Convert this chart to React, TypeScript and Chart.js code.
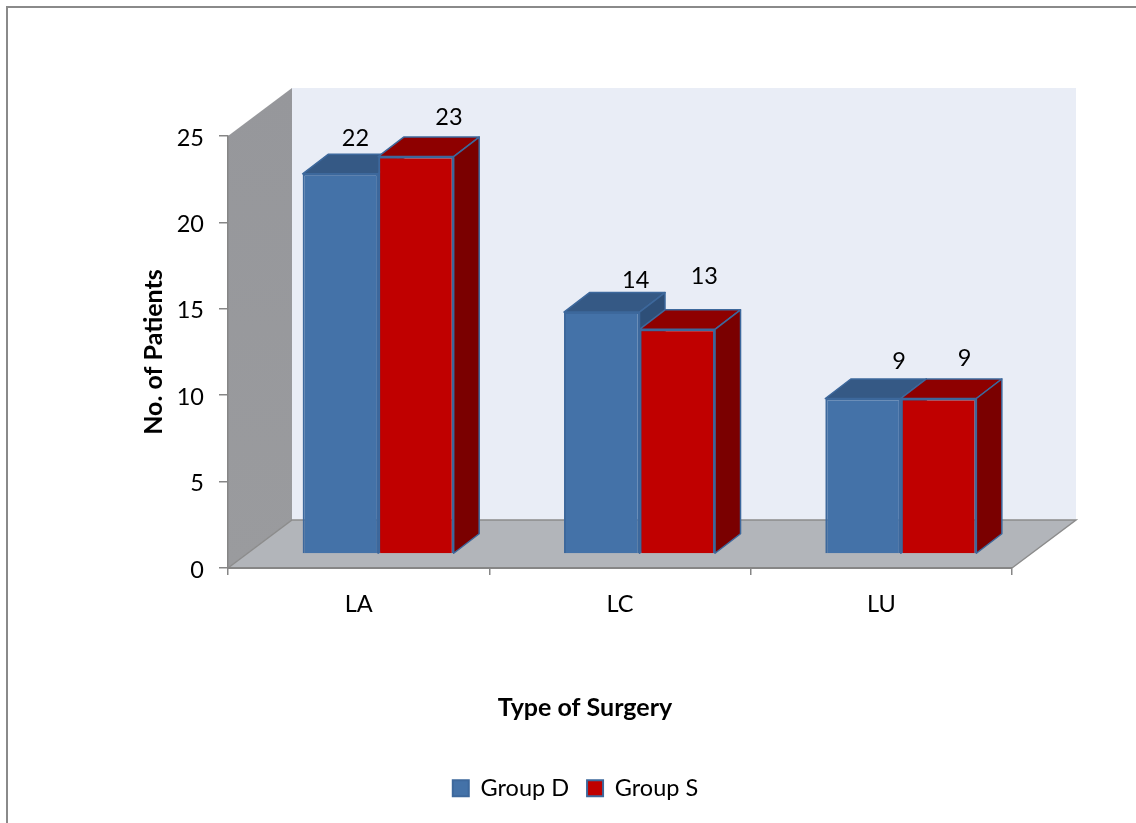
import React, { useEffect, useRef } from "react";
import { Chart, registerables } from "chart.js";

Chart.register(...registerables);

// Chart content
const surgeryTypes = ["LA", "LC", "LU"];
const groupD = [22, 14, 9];
const groupS = [23, 13, 9];
const groupNames = ["Group D", "Group S"];
const yTitle = "No. of Patients";
const xTitle = "Type of Surgery";

// Layout of the pseudo-3D box
const FONT = "Lato, Carlito, sans-serif";
const TEXT_SIZE = 23.5;
const TITLE_SIZE = 25;
const AREA_LEFT = 228;
const AREA_RIGHT_GAP = 124;
const AREA_TOP = 136;
const AREA_BOTTOM = 568;
const PAD_LEFT = 15;
const PAD_BOTTOM = 13;
const WALL_DEPTH = { x: 64, y: -48 };
const BAR_SHIFT = { x: 19.5, y: -14 };
const BAR_DEPTH = { x: 25.5, y: -19.5 };

// Hand placement of value labels, relative to each bar's top centre
const labelNudgeX = [[15, 34, 36], [33, 27, 26]];
const labelNudgeY = [[-35, -32, -37], [-39, -53, -40]];

const barFaces = [
  { front: "#4472A8", top: "#355985", side: "#2E4F78", edge: "#3D689C" },
  { front: "#C00000", top: "#8E0000", side: "#7A0000", edge: "#3D689C" },
];

function polygon(ctx: CanvasRenderingContext2D, pts: number[][], fill: string, stroke?: string, lw = 1.5) {
  ctx.beginPath();
  pts.forEach((p, i) => (i ? ctx.lineTo(p[0], p[1]) : ctx.moveTo(p[0], p[1])));
  ctx.closePath();
  ctx.fillStyle = fill;
  ctx.fill();
  if (stroke) {
    ctx.strokeStyle = stroke;
    ctx.lineWidth = lw;
    ctx.lineJoin = "round";
    ctx.stroke();
  }
}

const box3d = {
  id: "box3d",
  beforeDraw(chart: any) {
    const { ctx, chartArea: a } = chart;
    const dx = WALL_DEPTH.x;
    const dy = WALL_DEPTH.y;
    ctx.save();

    // outer frame: top and left edges only
    ctx.strokeStyle = "#8A8A8A";
    ctx.lineWidth = 2;
    ctx.beginPath();
    ctx.moveTo(7, chart.height);
    ctx.lineTo(7, 7);
    ctx.lineTo(chart.width, 7);
    ctx.stroke();

    // back wall
    polygon(ctx, [
      [a.left + dx, a.top + dy],
      [a.right + dx, a.top + dy],
      [a.right + dx, a.bottom + dy],
      [a.left + dx, a.bottom + dy],
    ], "#E9EDF6");

    // side wall
    const wall = ctx.createLinearGradient(0, a.top + dy, 0, a.bottom);
    wall.addColorStop(0, "#96979B");
    wall.addColorStop(1, "#9A9B9E");
    polygon(ctx, [
      [a.left, a.top],
      [a.left + dx, a.top + dy],
      [a.left + dx, a.bottom + dy],
      [a.left, a.bottom],
    ], wall);

    // floor
    polygon(ctx, [
      [a.left, a.bottom],
      [a.left + dx, a.bottom + dy],
      [a.right + dx, a.bottom + dy],
      [a.right, a.bottom],
    ], "#B2B5BA");
    ctx.strokeStyle = "#8C8C8C";
    ctx.lineWidth = 1.5;
    ctx.beginPath();
    ctx.moveTo(a.left, a.bottom);
    ctx.lineTo(a.left + dx, a.bottom + dy);
    ctx.lineTo(a.right + dx, a.bottom + dy);
    ctx.lineTo(a.right, a.bottom);
    ctx.stroke();
    ctx.restore();
  },
  // Chart.js paints the last dataset first; the prisms need left-to-right
  // painting so each group's front face hides its neighbour's side face.
  beforeDatasetDraw() {
    return false;
  },
  afterDatasetsDraw(chart: any) {
    const { ctx } = chart;
    ctx.save();
    ctx.translate(BAR_SHIFT.x, BAR_SHIFT.y);
    chart.data.datasets.forEach((_: any, d: number) => {
      const meta = chart.getDatasetMeta(d);
      const faces = barFaces[d];
      meta.controller.draw();
      meta.data.forEach((bar: any) => {
        const l = bar.x - bar.width / 2;
        const r = bar.x + bar.width / 2;
        const dx = BAR_DEPTH.x;
        const dy = BAR_DEPTH.y;
        polygon(ctx, [[l, bar.y], [r, bar.y], [r + dx, bar.y + dy], [l + dx, bar.y + dy]], faces.top, faces.edge);
        polygon(ctx, [[r, bar.y], [r + dx, bar.y + dy], [r + dx, bar.base + dy], [r, bar.base]], faces.side, faces.edge);
      });
    });
    ctx.restore();

    ctx.save();
    ctx.font = `${TEXT_SIZE}px ${FONT}`;
    ctx.fillStyle = "#000";
    ctx.textAlign = "center";
    ctx.textBaseline = "middle";
    chart.data.datasets.forEach((ds: any, d: number) => {
      chart.getDatasetMeta(d).data.forEach((bar: any, i: number) => {
        ctx.fillText(
          String(ds.data[i]),
          bar.x + BAR_SHIFT.x + labelNudgeX[d][i],
          bar.y + BAR_SHIFT.y + labelNudgeY[d][i],
        );
      });
    });
    // horizontal axis title sits left of the scale centre
    ctx.font = `bold ${TITLE_SIZE}px ${FONT}`;
    ctx.fillText(xTitle, 585, 708);
    ctx.restore();
  },
};

export default function App() {
  const ref = useRef<HTMLCanvasElement>(null);

  useEffect(() => {
    document.body.style.margin = "0";
    const chart = new Chart(ref.current as HTMLCanvasElement, {
      type: "bar",
      data: {
        labels: surgeryTypes,
        datasets: [
          { label: groupNames[0], data: groupD, backgroundColor: barFaces[0].front, borderColor: barFaces[0].edge, borderWidth: 2 },
          { label: groupNames[1], data: groupS, backgroundColor: barFaces[1].front, borderColor: barFaces[1].edge, borderWidth: 2 },
        ],
      } as any,
      options: {
        animation: false,
        responsive: false,
        categoryPercentage: 0.578,
        barPercentage: 1,
        layout: { padding: { left: PAD_LEFT, top: AREA_TOP, right: 0, bottom: PAD_BOTTOM } },
        plugins: {
          tooltip: { enabled: false },
          legend: {
            position: "bottom",
            labels: {
              boxWidth: 16,
              boxHeight: 16,
              padding: 18,
              color: "#000",
              font: { family: FONT, size: TEXT_SIZE },
            },
          },
        },
        scales: {
          x: {
            grid: { display: true, drawOnChartArea: false, color: "#868686", lineWidth: 1.5, tickLength: 7 },
            border: { color: "#868686", width: 2 },
            ticks: { color: "#000", font: { family: FONT, size: TEXT_SIZE }, padding: 15, maxRotation: 0 },
            afterFit(s: any) {
              s.height = s.chart.height - AREA_BOTTOM - PAD_BOTTOM - s.chart.legend.height;
            },
          },
          y: {
            min: 0,
            max: 25,
            grid: { display: true, drawOnChartArea: false, color: "#868686", lineWidth: 1.5, tickLength: 9 },
            border: { color: "#868686", width: 1.5 },
            ticks: { stepSize: 5, color: "#000", font: { family: FONT, size: TEXT_SIZE }, padding: 15, labelOffset: 2 },
            title: {
              display: true,
              text: yTitle,
              color: "#000",
              font: { family: FONT, size: TITLE_SIZE, weight: "bold" },
              padding: { top: 124, bottom: 0 },
            },
            afterFit(s: any) {
              s.width = AREA_LEFT - PAD_LEFT;
            },
          },
          // empty axis that reserves the space to the right of the plot
          rightGap: {
            type: "linear",
            position: "right",
            grid: { display: false },
            border: { display: false },
            ticks: { display: false },
            afterFit(s: any) {
              s.width = AREA_RIGHT_GAP;
            },
          },
        },
      } as any,
      plugins: [box3d],
    });
    return () => chart.destroy();
  }, []);

  return <canvas ref={ref} width={1136} height={823} style={{ display: "block", background: "#fff" }} />;
}
